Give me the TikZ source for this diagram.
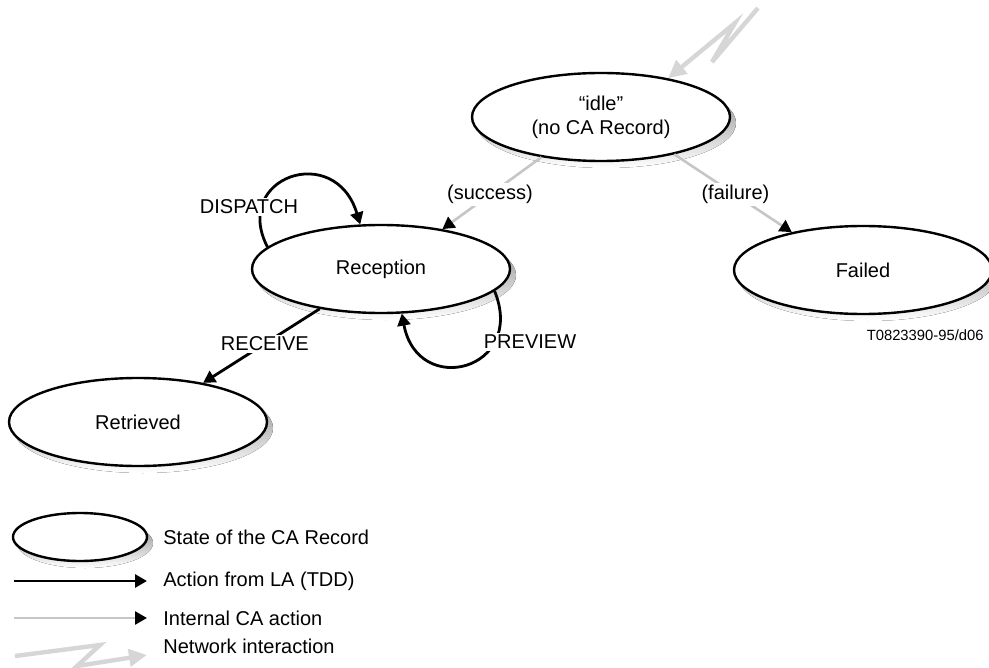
\documentclass[tikz,border=0pt]{standalone}
\usepackage{fontspec}
\setmainfont{Liberation Sans}
\usetikzlibrary{arrows.meta,shapes.geometric,backgrounds}
\definecolor{lightgrey}{HTML}{C6C6C6}
\definecolor{netgrey}{HTML}{D6D6D6}
\definecolor{shade}{HTML}{E0E0E0}

\begin{document}
\begin{tikzpicture}[x=0.5pt,y=-0.5pt,font=\fontsize{10}{12}\selectfont,
  state/.style={ellipse,draw,line width=1.2pt,fill=white,inner sep=0pt,align=center,
    minimum width=129pt,minimum height=44pt},
  ladirect/.style={line width=1.4pt,-{Triangle[length=6pt,width=6.5pt]}},
  internal/.style={lightgrey,line width=1.3pt,-{Triangle[length=6pt,width=6.5pt,color=black]}},
  network/.style={netgrey,line width=2.2pt,-{Triangle[length=9pt,width=8.5pt]}},
  lbl/.style={fill=white,text=black,inner sep=1pt},
  legtxt/.style={anchor=west,inner sep=0pt}]
  \useasboundingbox (0,0) rectangle (989,668);

  % states
  \node[state] (idle) at (601,117) {“idle”\\(no CA Record)};
  \node[state] (rec) at (381,269) {Reception};
  \node[state] (failed) at (863,270) {Failed};
  \node[state] (retr) at (138,422) {Retrieved};

  % internal transitions
  \draw[internal] (idle.214) -- node[lbl,pos=.52] (succ) {(success)} (rec.33);
  \draw[internal] (idle.-27) -- node[lbl,pos=.52] (fail) {(failure)} (failed.152);

  % actions from LA
  \draw[ladirect] (rec.213) -- node[lbl,pos=.47] (recv) {RECEIVE} (retr.31);
  \draw[ladirect] (rec.169) .. controls +(-36,-70) and +(-25,-83) .. (rec.115);
  \node[lbl] (disp) at (249,207) {DISPATCH};
  \draw[ladirect] (rec.-11) .. controls +(32,79) and +(16,85) .. (rec.-65);
  \node[lbl] (prev) at (530,342) {PREVIEW};

  % network interaction
  \coordinate (netin) at (758,8);
  \draw[network] (netin) -- ++(-46,54) -- ++(23,-39) -- (idle.30);

  \node[anchor=east,inner sep=0pt,font=\fontsize{7.4}{9}\selectfont] (figcode) at (984,335) {T0823390-95/d06};

  % legend
  \node[state,minimum width=67pt,minimum height=24pt] (legstate) at (80,537) {};
  \node[legtxt] (legstatetxt) at (163,537) {State of the CA Record};
  \node[legtxt] (legacttxt) at (163,581) {Action from LA (TDD)};
  \coordinate (legact) at (14,581);
  \draw[ladirect,shorten >=8pt] (legact) -- (legacttxt.west);
  \node[legtxt] (leginttxt) at (163,618) {Internal CA action};
  \coordinate (legint) at (14,618);
  \draw[internal,shorten >=8pt] (legint) -- (leginttxt.west);
  \node[legtxt] (legnettxt) at (163,646) {Network interaction};
  \coordinate (legnet) at (15,656);
  \draw[network] (legnet) -- ++(85,-11) -- ++(-23,21) -- ++(70,-11);

  % shadows under the states
  \begin{pgfonlayer}{background}
    \foreach \st/\rx/\ry in {idle/65/22.5,rec/65/22.5,failed/65/22.5,retr/65/22.5,legstate/34/12.5}
      \fill[shade] ([shift={(2.5pt,-3pt)}]\st.center) ellipse [x radius=\rx pt,y radius=\ry pt];
  \end{pgfonlayer}
\end{tikzpicture}
\end{document}
